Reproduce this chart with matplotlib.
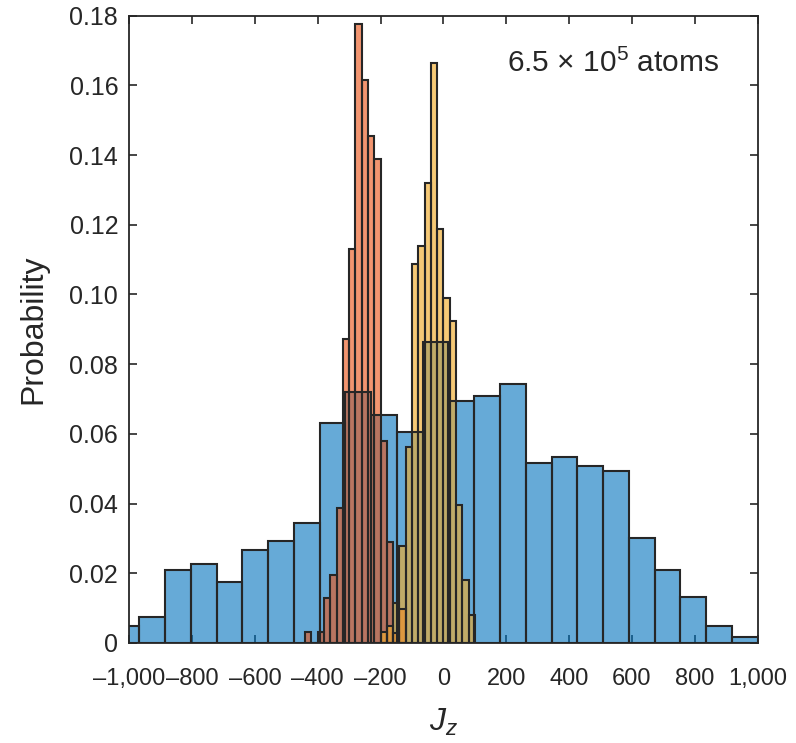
"""Spin-projection histograms for the coherent and squeezed ensembles."""
import matplotlib

matplotlib.use("Agg")
import matplotlib.pyplot as plt
import numpy as np

plt.rcParams["font.family"] = ["Liberation Sans", "DejaVu Sans"]
plt.rcParams["mathtext.fontset"] = "custom"
plt.rcParams["mathtext.rm"] = "Liberation Sans"
plt.rcParams["mathtext.it"] = "Liberation Sans:italic"

TEXT = "#262626"

# Broad (unsqueezed) distribution: 25 bins of width 82 starting at -1050
blue_start = -1050
blue_width = 82
blue_prob = [0.0050, 0.0075, 0.0209, 0.0227, 0.0176, 0.0268, 0.0292, 0.0343,
             0.0630, 0.0720, 0.0653, 0.0604, 0.0865, 0.0693, 0.0710, 0.0744,
             0.0517, 0.0534, 0.0508, 0.0493, 0.0300, 0.0209, 0.0133, 0.0050,
             0.0016]

# Narrow distributions: bins of width 20
red_start = -440
red_width = 20
red_prob = [0.0032, 0.0, 0.0032, 0.0130, 0.0195, 0.0387, 0.0872, 0.1131,
            0.1775, 0.1614, 0.1454, 0.1389, 0.0580, 0.0291, 0.0028, 0.0097]

yellow_start = -200
yellow_width = 20
yellow_prob = [0.0032, 0.0050, 0.0114, 0.0279, 0.0561, 0.1088, 0.1138, 0.1320,
               0.1664, 0.1188, 0.0989, 0.0923, 0.0396, 0.0182, 0.0081]

x_ticks = [-1000, -800, -600, -400, -200, 0, 200, 400, 600, 800, 1000]
x_tick_labels = ["\u20131,000", "\u2013800", "\u2013600", "\u2013400", "\u2013200",
                 "0", "200", "400", "600", "800", "1,000"]
y_ticks = [0, 0.02, 0.04, 0.06, 0.08, 0.10, 0.12, 0.14, 0.16, 0.18]
y_tick_labels = ["0", "0.02", "0.04", "0.06", "0.08", "0.10", "0.12", "0.14",
                 "0.16", "0.18"]


def draw_hist(ax, start, width, probs, color, alpha):
    lefts = start + width * np.arange(len(probs))
    ax.bar(lefts, probs, width=width, align="edge", color=color, alpha=alpha,
           edgecolor="none", zorder=2)
    ax.bar(lefts, probs, width=width, align="edge", fill=False,
           edgecolor="#262626", linewidth=1.5, zorder=2.1)


fig = plt.figure(figsize=(7.96, 7.43), dpi=100)
ax = fig.add_axes([0.1624, 0.1346, 0.7894, 0.8443])

draw_hist(ax, blue_start, blue_width, blue_prob, (0.0, 0.447, 0.741), 0.6)
draw_hist(ax, red_start, red_width, red_prob, (235 / 255, 85 / 255, 25 / 255), 0.62)
draw_hist(ax, yellow_start, yellow_width, yellow_prob, (241 / 255, 172 / 255, 45 / 255), 0.65)

ax.set_xlim(-1000, 1000)
ax.set_ylim(0, 0.18)
ax.set_xticks(x_ticks)
ax.set_xticklabels(x_tick_labels)
ax.set_yticks(y_ticks)
ax.set_yticklabels(y_tick_labels)
ax.set_axisbelow(True)

ax.tick_params(direction="in", length=6, width=1.2, colors=TEXT, labelsize=18,
               top=True, right=True)
ax.tick_params(axis="x", labelsize=17, pad=18)
ax.tick_params(axis="y", pad=8)
for spine in ax.spines.values():
    spine.set_color(TEXT)
    spine.set_linewidth(1.3)
    spine.set_zorder(3)

ax.set_xlabel(r"$J_z$", fontsize=23, color=TEXT, labelpad=12)
ax.set_ylabel("Probability", fontsize=23, color=TEXT, labelpad=15)

ax.text(201, 0.1637, r"6.5 $\times$ 10$^5$ atoms", fontsize=21.5, color=TEXT,
        ha="left", va="baseline")

fig.savefig("out.png", dpi=100)
